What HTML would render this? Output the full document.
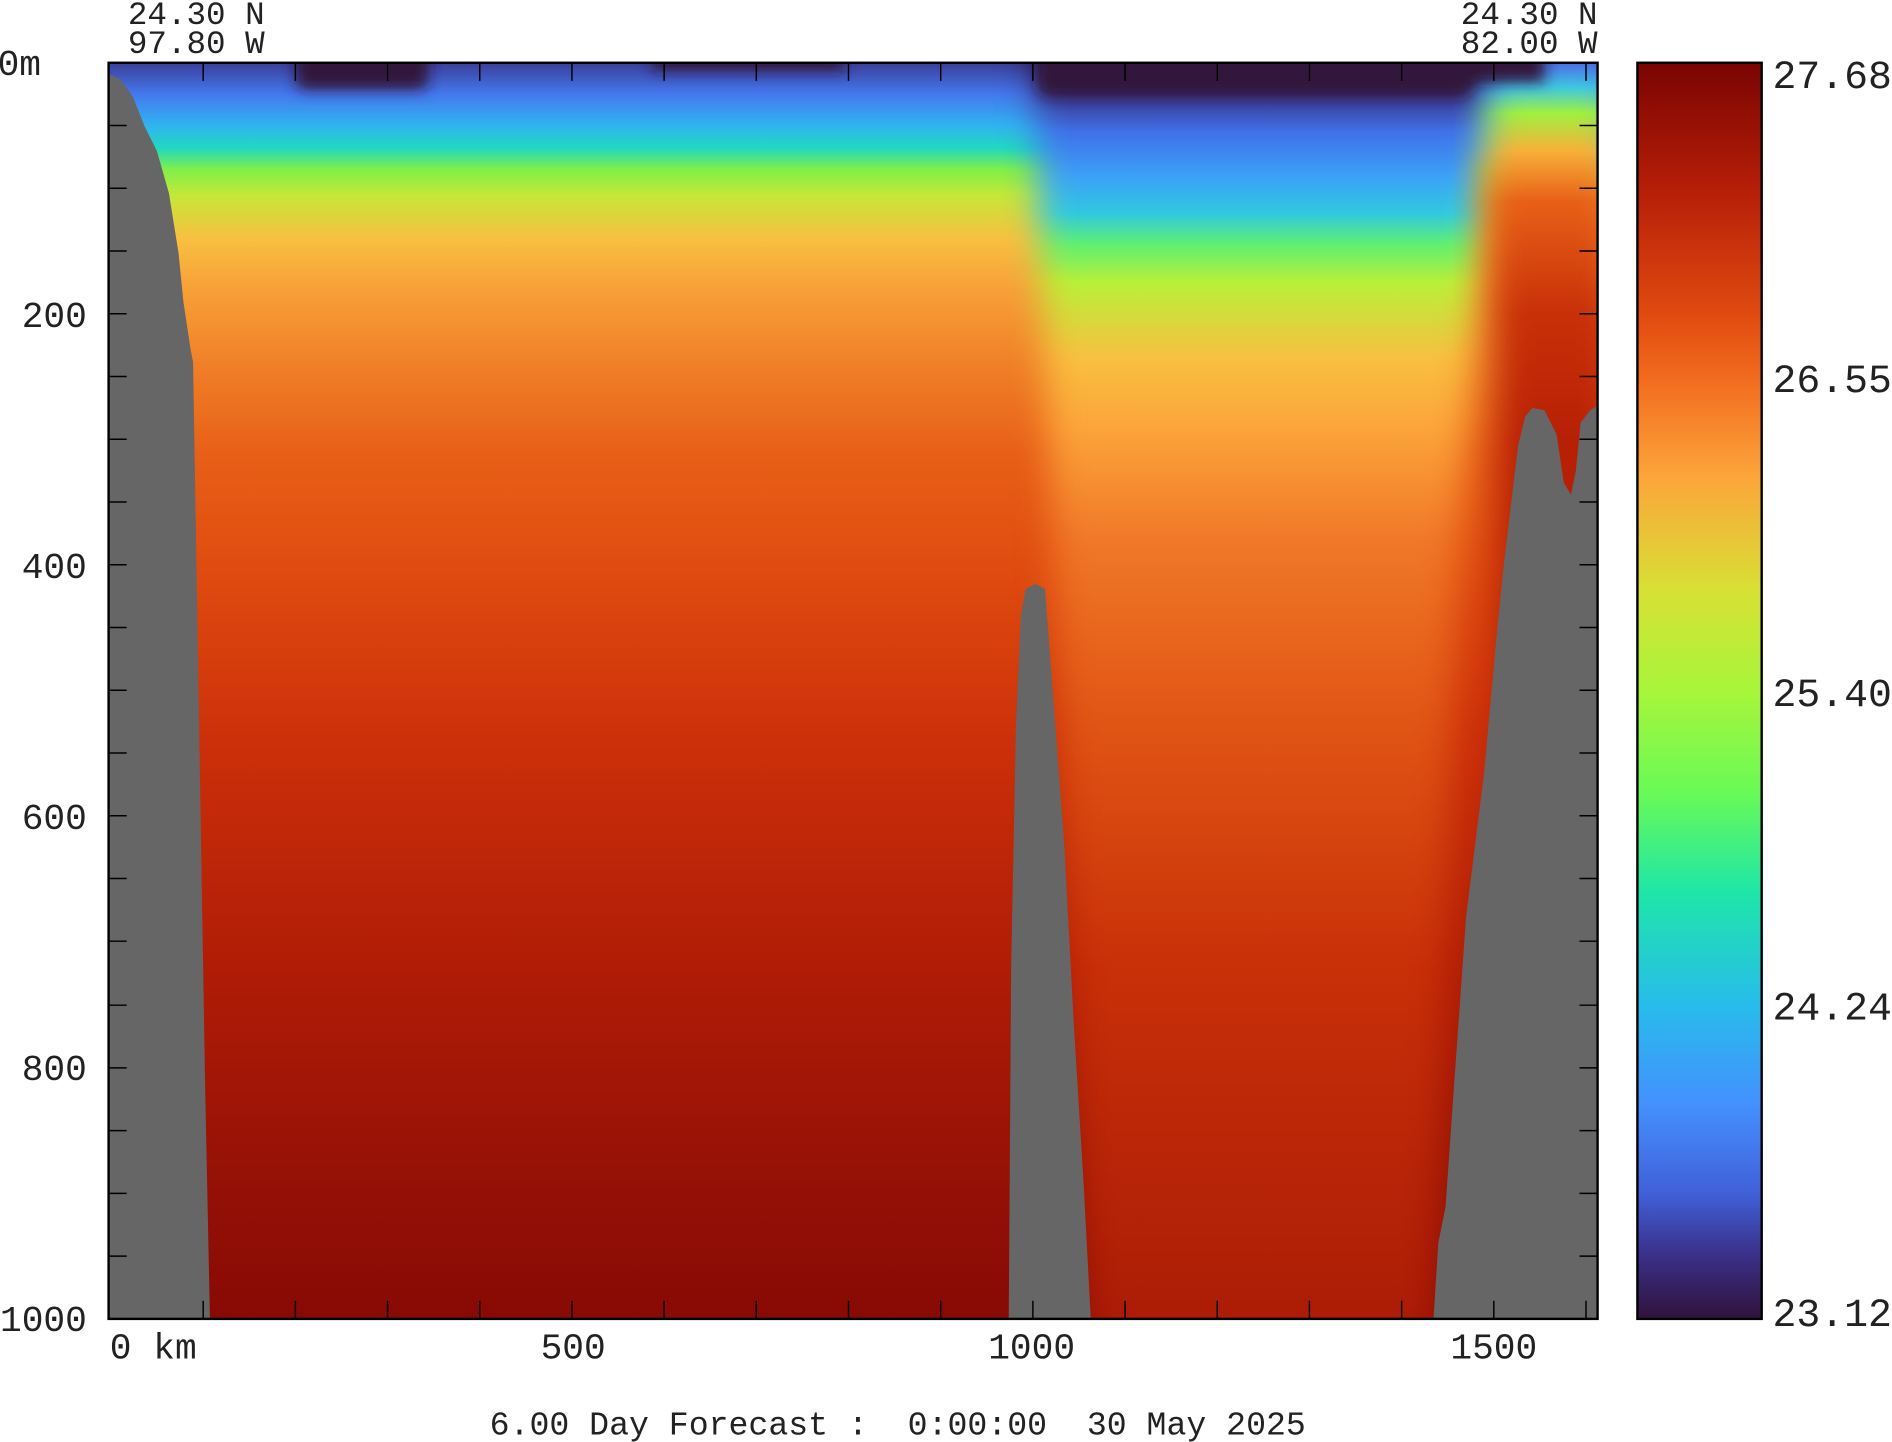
<!DOCTYPE html>
<html><head><meta charset="utf-8"><style>
html,body{margin:0;padding:0;background:#fff;}
svg{display:block}
text{font-family:"Liberation Mono",monospace;fill:#222;}
</style></head><body>
<svg width="1892" height="1442" viewBox="0 0 1568 1195" xmlns="http://www.w3.org/2000/svg">
<defs>
<linearGradient id="gL" gradientUnits="userSpaceOnUse" x1="0" y1="52" x2="0" y2="1093">
<stop offset="0" stop-color="#3a3f9a"/>
<stop offset="0.025" stop-color="#4478ee"/>
<stop offset="0.05" stop-color="#30b4f0"/>
<stop offset="0.068" stop-color="#22d8c0"/>
<stop offset="0.085" stop-color="#80f048"/>
<stop offset="0.105" stop-color="#c4e838"/>
<stop offset="0.14" stop-color="#f8c040"/>
<stop offset="0.18" stop-color="#f8a038"/>
<stop offset="0.24" stop-color="#f08028"/>
<stop offset="0.31" stop-color="#e86018"/>
<stop offset="0.4" stop-color="#e04c10"/>
<stop offset="0.54" stop-color="#cc300a"/>
<stop offset="0.72" stop-color="#b01c06"/>
<stop offset="0.9" stop-color="#941006"/>
<stop offset="1" stop-color="#880a04"/>
</linearGradient>
<linearGradient id="gR" gradientUnits="userSpaceOnUse" x1="0" y1="52" x2="0" y2="1093">
<stop offset="0" stop-color="#30123b"/>
<stop offset="0.03" stop-color="#3a3f9a"/>
<stop offset="0.055" stop-color="#4070e8"/>
<stop offset="0.09" stop-color="#3ca0f8"/>
<stop offset="0.12" stop-color="#30c8e0"/>
<stop offset="0.145" stop-color="#60f070"/>
<stop offset="0.175" stop-color="#b8f038"/>
<stop offset="0.235" stop-color="#f8c040"/>
<stop offset="0.29" stop-color="#fca53a"/>
<stop offset="0.38" stop-color="#f07828"/>
<stop offset="0.53" stop-color="#e05414"/>
<stop offset="0.72" stop-color="#c83008"/>
<stop offset="1" stop-color="#ac1c06"/>
</linearGradient>
<linearGradient id="gF" gradientUnits="userSpaceOnUse" x1="0" y1="52" x2="0" y2="1093">
<stop offset="0" stop-color="#4a70e8"/>
<stop offset="0.02" stop-color="#40c8e0"/>
<stop offset="0.04" stop-color="#a0f040"/>
<stop offset="0.07" stop-color="#f8b038"/>
<stop offset="0.11" stop-color="#e86018"/>
<stop offset="0.2" stop-color="#c83008"/>
<stop offset="0.3" stop-color="#b82006"/>
<stop offset="1" stop-color="#a01806"/>
</linearGradient>
<linearGradient id="gC" x1="0" y1="0" x2="0" y2="1">
<stop offset="0" stop-color="#7a0403"/>
<stop offset="0.1" stop-color="#b51e07"/>
<stop offset="0.2" stop-color="#e04a10"/>
<stop offset="0.25" stop-color="#f26a1e"/>
<stop offset="0.33" stop-color="#fca53a"/>
<stop offset="0.42" stop-color="#d8e035"/>
<stop offset="0.5" stop-color="#a8f53a"/>
<stop offset="0.58" stop-color="#6afa55"/>
<stop offset="0.66" stop-color="#1fe6a8"/>
<stop offset="0.75" stop-color="#28bceb"/>
<stop offset="0.83" stop-color="#4490fe"/>
<stop offset="0.9" stop-color="#4160d8"/>
<stop offset="0.95" stop-color="#3a2f88"/>
<stop offset="1" stop-color="#30123b"/>
</linearGradient>
<filter id="bl" x="-20%" y="-20%" width="140%" height="140%"><feGaussianBlur stdDeviation="14"/></filter>
<filter id="bs" x="-20%" y="-50%" width="140%" height="200%"><feGaussianBlur stdDeviation="6"/></filter>
<mask id="mR" maskUnits="userSpaceOnUse" x="0" y="0" width="1568" height="1195">
<polygon points="855,30 1235,30 1225,200 1205,500 1190,1120 900,1120 875,500 862,200" fill="#fff" filter="url(#bl)"/>
</mask>
<mask id="mF" maskUnits="userSpaceOnUse" x="0" y="0" width="1568" height="1195">
<polygon points="1238,30 1340,30 1340,1120 1250,1120 1240,300 1228,150" fill="#fff" filter="url(#bl)"/>
</mask>
<clipPath id="cp"><rect x="90" y="52" width="1234" height="1041"/></clipPath>
</defs>
<g clip-path="url(#cp)">
<rect x="90" y="52" width="1234" height="1041" fill="url(#gL)"/>
<rect x="90" y="52" width="1234" height="1041" fill="url(#gR)" mask="url(#mR)"/>
<rect x="90" y="52" width="1234" height="1041" fill="url(#gF)" mask="url(#mF)"/>
<g filter="url(#bs)" fill="#30123b">
<rect x="245" y="40" width="110" height="34" rx="8"/>
<rect x="540" y="40" width="160" height="18"/>
<rect x="860" y="40" width="360" height="40" rx="10"/>
<rect x="1210" y="40" width="70" height="28"/>
</g>
<polygon fill="#666" points="90,62 92,62 100,66 110,80 120,105 130,125 140,160 148,210 152,250 158,290 160,300 165,600 170,900 174,1093 90,1093"/>
<polygon fill="#666" points="836,1093 838,800 842,600 846,510 850,488 858,484 866,488 870,540 876,620 882,700 890,850 898,980 904,1093"/>
<polygon fill="#666" points="1188,1093 1192,1030 1198,1000 1205,900 1215,760 1230,640 1240,530 1246,470 1252,420 1258,370 1264,345 1270,338 1280,340 1290,360 1296,400 1302,410 1306,390 1310,350 1318,340 1324,336 1324,1093"/>
</g>
<g stroke="#000" stroke-width="1.2">
<path d="M168.4,52v15M244.8,52v15M321.2,52v15M397.6,52v15M474,52v15M550.4,52v15M626.8,52v15M703.2,52v15M779.6,52v15M856,52v15M932.4,52v15M1008.8,52v15M1085.2,52v15M1161.6,52v15M1238,52v15M1314.4,52v15"/>
<path d="M168.4,1093v-15M244.8,1093v-15M321.2,1093v-15M397.6,1093v-15M474,1093v-15M550.4,1093v-15M626.8,1093v-15M703.2,1093v-15M779.6,1093v-15M856,1093v-15M932.4,1093v-15M1008.8,1093v-15M1085.2,1093v-15M1161.6,1093v-15M1238,1093v-15M1314.4,1093v-15"/>
<path d="M90,104h15M90,156h15M90,208h15M90,260h15M90,312h15M90,364h15M90,416h15M90,468h15M90,520h15M90,572h15M90,624h15M90,676h15M90,728h15M90,780h15M90,833h15M90,885h15M90,937h15M90,989h15M90,1041h15"/>
<path d="M1324,104h-15M1324,156h-15M1324,208h-15M1324,260h-15M1324,312h-15M1324,364h-15M1324,416h-15M1324,468h-15M1324,520h-15M1324,572h-15M1324,624h-15M1324,676h-15M1324,728h-15M1324,780h-15M1324,833h-15M1324,885h-15M1324,937h-15M1324,989h-15M1324,1041h-15"/>
</g>
<rect x="90" y="52" width="1234" height="1041" fill="none" stroke="#000" stroke-width="2"/>
<rect x="1357" y="52" width="103" height="1041" fill="url(#gC)" stroke="#000" stroke-width="2"/>
<g font-size="27">
<text x="106" y="20">24.30 N</text>
<text x="106" y="44">97.80 W</text>
<text x="1324" y="20" text-anchor="end">24.30 N</text>
<text x="1324" y="44" text-anchor="end">82.00 W</text>
</g>
<g font-size="30">
<text x="-2" y="62">0m</text>
<text x="72" y="271" text-anchor="end">200</text>
<text x="72" y="479" text-anchor="end">400</text>
<text x="72" y="687" text-anchor="end">600</text>
<text x="72" y="895" text-anchor="end">800</text>
<text x="72" y="1103" text-anchor="end">1000</text>
<text x="91" y="1126">0 km</text>
<text x="475" y="1126" text-anchor="middle">500</text>
<text x="855" y="1126" text-anchor="middle">1000</text>
<text x="1238" y="1126" text-anchor="middle">1500</text>
</g>
<g font-size="33">
<text x="1469" y="73">27.68</text>
<text x="1469" y="325">26.55</text>
<text x="1469" y="585">25.40</text>
<text x="1469" y="845">24.24</text>
<text x="1469" y="1099">23.12</text>
</g>
<text x="744" y="1189" font-size="27.5" text-anchor="middle" xml:space="preserve">6.00 Day Forecast :  0:00:00  30 May 2025</text>
</svg>
</body></html>
